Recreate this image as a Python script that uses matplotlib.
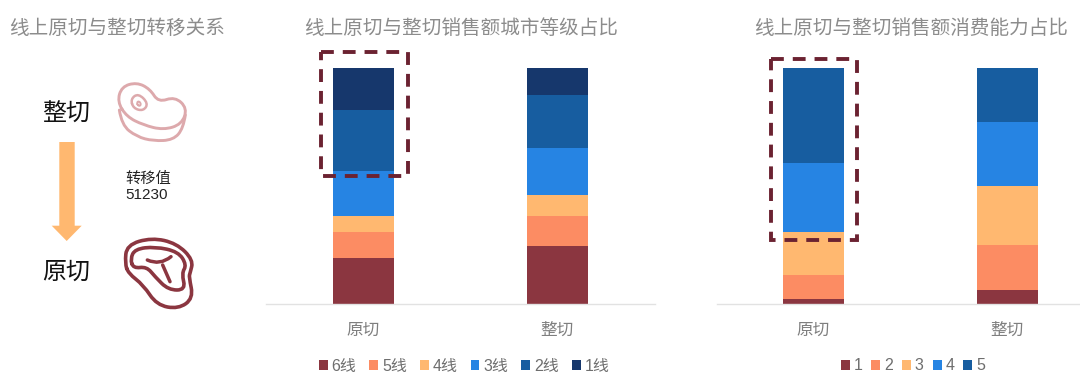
import matplotlib
matplotlib.use("Agg")
import matplotlib.pyplot as plt
from matplotlib.patches import PathPatch, Polygon, Rectangle
from matplotlib.path import Path
import numpy as np

FONT = ['Liberation Sans', 'Noto Sans CJK SC']
plt.rcParams['font.family'] = FONT

categories = ['原切', '整切']
city_labels = ['6线', '5线', '4线', '3线', '2线', '1线']
city_yuanqie = [19.4, 11.3, 6.6, 19.0, 25.7, 18.0]
city_zhengqie = [24.4, 13.0, 8.6, 20.3, 22.1, 11.6]
power_labels = ['1', '2', '3', '4', '5']
power_yuanqie = [2.1, 10.2, 18.3, 29.1, 40.3]
power_zhengqie = [5.8, 19.3, 25.1, 26.8, 23.0]
title_left = '线上原切与整切转移关系'
title_mid = '线上原切与整切销售额城市等级占比'
title_right = '线上原切与整切销售额消费能力占比'
transfer_text = '转移值\n51230'

C_MAROON = '#8B3640'
C_CORAL = '#FC8C63'
C_SAND = '#FFB870'
C_BLUE = '#2684E3'
C_MID = '#175DA0'
C_NAVY = '#16376C'
city_colors = [C_MAROON, C_CORAL, C_SAND, C_BLUE, C_MID, C_NAVY]
power_colors = [C_MAROON, C_CORAL, C_SAND, C_BLUE, C_MID]
DASH = '#6B2231'
GRAY = '#8C8C8C'
TICK = '#7F7F7F'
LEG = '#6E6E6E'

W, H = 1080, 381
fig = plt.figure(figsize=(W / 100, H / 100), dpi=100, facecolor='white')


def axes_px(x0, x1, y0, y1):
    return fig.add_axes([x0 / W, 1 - y1 / H, (x1 - x0) / W, (y1 - y0) / H])


def stacked(ax, a, b, labels, colors):
    bottom = np.zeros(2)
    handles = []
    for va, vb, lab, col in zip(a, b, labels, colors):
        h = ax.bar(range(2), [va, vb], 0.314, bottom=bottom, color=col, label=lab,
                   edgecolor='none')
        bottom += np.array([va, vb])
        handles.append(h)
    ax.set_xlim(-0.5, 1.5)
    ax.set_ylim(0, 100)
    ax.set_xticks(range(2), categories, fontsize=12, color=TICK, va='center')
    ax.tick_params(axis='x', length=0, pad=18.6)
    ax.set_yticks([])
    for s in ['top', 'left', 'right']:
        ax.spines[s].set_visible(False)
    ax.spines['bottom'].set_color('#E2E2E2')
    ax.spines['bottom'].set_linewidth(1)
    ax.patch.set_alpha(0)
    return handles


ax1 = axes_px(266, 654.5, 68, 304)
ax2 = axes_px(716.5, 1104, 68, 304)
h1 = stacked(ax1, city_yuanqie, city_zhengqie, city_labels, city_colors)
h2 = stacked(ax2, power_yuanqie, power_zhengqie, power_labels, power_colors)


def legend(handles, labels, cx, colsp):
    fig.legend(handles, labels, loc='center', bbox_to_anchor=(cx / W, 1 - 366 / H),
               ncol=len(labels), frameon=False, fontsize=11.5, labelcolor=LEG,
               handlelength=0.56, handleheight=0.56, handletextpad=0.25,
               columnspacing=colsp, borderpad=0, borderaxespad=0)


legend(h1, city_labels, 464, 0.8)
legend(h2, power_labels, 913, 0.55)

# overlay in pixel coordinates for the annotations and icons
ov = fig.add_axes([0, 0, 1, 1], zorder=5)
ov.set_xlim(0, W)
ov.set_ylim(H, 0)
ov.axis('off')
ov.patch.set_alpha(0)

for x, txt in [(9, title_left), (304, title_mid), (754, title_right)]:
    ov.text(x, 28, txt, fontsize=14.1, color=GRAY, ha='left', va='center')

ov.text(66, 115, '整切', fontsize=17.3, color='#111111', ha='center', va='center')
ov.text(66, 273, '原切', fontsize=17.3, color='#111111', ha='center', va='center')
ov.text(125, 187, transfer_text, fontsize=11, color='#222222', ha='left', va='center',
        linespacing=1.12)

# down arrow
ov.add_patch(Polygon([(59.3, 142), (74.7, 142), (74.7, 225.7), (81.7, 225.7), (66.7, 241),
                      (51.7, 225.7), (59.3, 225.7)], closed=True, fc=C_SAND, ec='none'))

# dashed highlight boxes
for x0, x1, y0, y1 in [(320.7, 407.7, 52, 175.7), (771, 857, 59.3, 240)]:
    ov.add_patch(Rectangle((x0, y0), x1 - x0, y1 - y0, fill=False, ec=DASH, lw=2.8,
                           ls=(0, (3.3, 2.3))))


def smooth(pts, origin, closed=False):
    """Smooth stroke path from 3x crop coordinates with the crop's pixel origin."""
    p = np.array(pts, float) / 3 + np.array(origin, float)
    if len(p) == 2:
        return Path(p, [Path.MOVETO, Path.LINETO])
    if closed:
        start = (p[-1] + p[0]) / 2
        verts, codes = [start], [Path.MOVETO]
        for i in range(len(p)):
            verts += [p[i], (p[i] + p[(i + 1) % len(p)]) / 2]
            codes += [Path.CURVE3, Path.CURVE3]
    else:
        verts, codes = [p[0]], [Path.MOVETO]
        for i in range(1, len(p) - 1):
            end = (p[i] + p[i + 1]) / 2 if i < len(p) - 2 else p[i + 1]
            verts += [p[i], end]
            codes += [Path.CURVE3, Path.CURVE3]
    return Path(verts, codes)


def stroke(pts, origin, color, lw, closed=False):
    ov.add_patch(PathPatch(smooth(pts, origin, closed), fill=False, ec=color, lw=lw,
                           capstyle='round', joinstyle='round'))


PINK = '#DDA9AC'
O1 = (110, 75)
stroke([(22, 80), (35, 35), (80, 22), (120, 42), (145, 82), (195, 65), (232, 100), (215, 148),
        (160, 165), (100, 150), (50, 125)], O1, PINK, 2.1, closed=True)
stroke([(28, 105), (35, 150), (80, 185), (130, 198), (190, 195), (220, 160), (226, 120)],
       O1, PINK, 2.1)
stroke([(62, 72), (85, 55), (115, 85), (100, 108), (70, 100)], O1, PINK, 1.8, closed=True)
stroke([(80, 82), (88, 78), (94, 90), (85, 94)], O1, PINK, 1.4, closed=True)

O2 = (115, 235)
stroke([(30, 85), (35, 30), (110, 8), (185, 25), (235, 75), (225, 115), (222, 125), (235, 190),
        (190, 222), (125, 210), (85, 150), (40, 115)], O2, C_MAROON, 2.6, closed=True)
stroke([(46, 72), (60, 42), (120, 35), (190, 50), (215, 90), (200, 115), (212, 165), (160, 165),
        (120, 125), (95, 95), (55, 100)], O2, C_MAROON, 2.6, closed=True)
stroke([(97, 75), (135, 92), (168, 65)], O2, C_MAROON, 2.5)
stroke([(143, 90), (165, 140)], O2, C_MAROON, 2.5)

fig.savefig('out.png', dpi=100, facecolor='white')
